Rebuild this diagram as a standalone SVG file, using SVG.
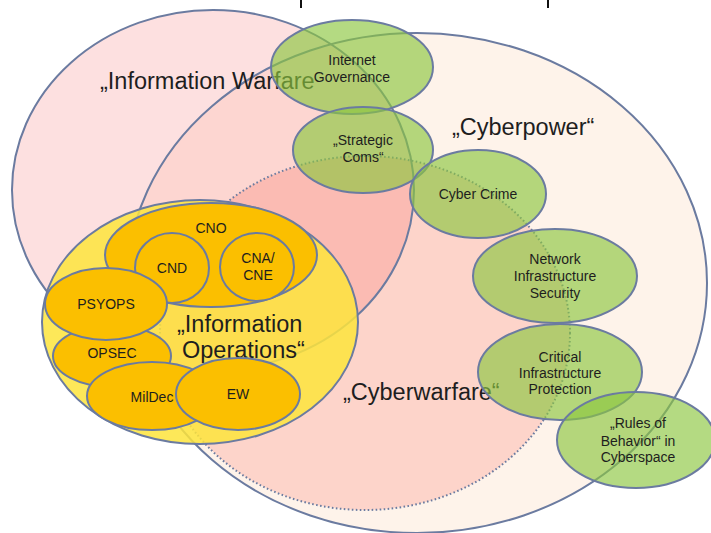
<svg xmlns="http://www.w3.org/2000/svg" width="711" height="533" viewBox="0 0 711 533">
<style>
.ol{fill:none;stroke:#6b7ba0;stroke-width:2}
.dot{fill:none;stroke:#6b7ba0;stroke-width:2;stroke-dasharray:1.6 2.4}
.or{fill:#fbbf00;stroke:#6b7ba0;stroke-width:2}
.gr{fill:#8cc63f;fill-opacity:0.65;stroke:#6b7ba0;stroke-width:2}
.yl{fill:#fde43c;fill-opacity:0.85;stroke:#6b7ba0;stroke-width:2}
.big{font-family:"Liberation Sans",Arial,sans-serif;font-size:23.5px;fill:#1e1e1e}
.sm{font-family:"Liberation Sans",Arial,sans-serif;font-size:14px;fill:#1e1e1e;text-anchor:middle}
</style>
<defs>
<clipPath id="cIW"><ellipse cx="213" cy="190" rx="201" ry="180"/></clipPath>
</defs>
<rect width="711" height="533" fill="#ffffff"/>
<rect x="300" y="0" width="2" height="8" fill="#111"/>
<rect x="547" y="0" width="2" height="8" fill="#111"/>
<g id="areas">
<ellipse cx="417" cy="283" rx="290" ry="250" fill="#fef3ea"/>
<ellipse cx="213" cy="190" rx="201" ry="180" fill="#fde0e0"/>
<ellipse cx="417" cy="283" rx="290" ry="250" fill="#fdd6d1" clip-path="url(#cIW)"/>
<ellipse cx="365" cy="333" rx="205" ry="177" fill="#fdd4ca"/>
<ellipse cx="365" cy="333" rx="205" ry="177" fill="#fbbbb3" clip-path="url(#cIW)"/>
<ellipse id="cyberpower" class="ol" cx="417" cy="283" rx="290" ry="250"/>
<ellipse id="infowarfare" class="ol" cx="213" cy="190" rx="201" ry="180"/>
<ellipse id="cyberwarfare" class="dot" cx="365" cy="333" rx="205" ry="177"/>
<text class="big" x="100" y="89">„Information Warfare</text>
<text class="big" x="452" y="135">„Cyberpower“</text>
<text class="big" x="343" y="400">„Cyberwarfare“</text>
</g>
<g id="info-ops">
<ellipse class="yl" cx="200" cy="322" rx="158" ry="122"/>
<text class="big" x="177" y="332">„Information</text>
<text class="big" x="182" y="358">Operations“</text>
</g>
<g id="cno">
<ellipse class="or" cx="211" cy="255" rx="106" ry="52"/>
<text class="sm" x="211" y="233">CNO</text>
</g>
<g id="cnd">
<ellipse class="or" cx="172" cy="268" rx="37" ry="35"/>
<text class="sm" x="172" y="273">CND</text>
</g>
<g id="cna-cne">
<ellipse class="or" cx="257" cy="267" rx="37" ry="34"/>
<text class="sm" x="258" y="263">CNA/</text>
<text class="sm" x="258" y="280">CNE</text>
</g>
<g id="opsec">
<ellipse class="or" cx="112" cy="356" rx="59" ry="31"/>
<text class="sm" x="112" y="358">OPSEC</text>
</g>
<g id="psyops">
<ellipse class="or" cx="106" cy="304" rx="61" ry="36"/>
<text class="sm" x="106" y="309">PSYOPS</text>
</g>
<g id="mildec">
<ellipse class="or" cx="152" cy="396" rx="65" ry="34"/>
<text class="sm" x="152" y="402">MilDec</text>
</g>
<g id="ew">
<ellipse class="or" cx="238" cy="394" rx="62" ry="36"/>
<text class="sm" x="238" y="399">EW</text>
</g>
<g id="internet-governance">
<ellipse class="gr" cx="352" cy="67" rx="81" ry="47"/>
</g>
<g id="strategic-coms">
<ellipse class="gr" cx="363" cy="150" rx="70" ry="43"/>
</g>
<g id="cyber-crime">
<ellipse class="gr" cx="478" cy="194" rx="68" ry="44"/>
</g>
<g id="network-security">
<ellipse class="gr" cx="555" cy="276" rx="82" ry="47"/>
</g>
<g id="critical-infra">
<ellipse class="gr" cx="560" cy="372" rx="82" ry="48"/>
</g>
<g id="rules-of-behavior">
<ellipse class="gr" cx="636" cy="440" rx="79" ry="48"/>
</g>
<g id="green-labels">
<text class="sm" x="352" y="65">Internet</text>
<text class="sm" x="352" y="82">Governance</text>
<text class="sm" x="363" y="145">„Strategic</text>
<text class="sm" x="363" y="162">Coms“</text>
<text class="sm" x="478" y="199">Cyber Crime</text>
<text class="sm" x="555" y="264">Network</text>
<text class="sm" x="555" y="281">Infrastructure</text>
<text class="sm" x="555" y="298">Security</text>
<text class="sm" x="560" y="362">Critical</text>
<text class="sm" x="560" y="378">Infrastructure</text>
<text class="sm" x="560" y="394">Protection</text>
<text class="sm" x="638" y="428">„Rules of</text>
<text class="sm" x="638" y="446">Behavior“ in</text>
<text class="sm" x="638" y="462">Cyberspace</text>
</g>
<g id="connectors"/>
</svg>
